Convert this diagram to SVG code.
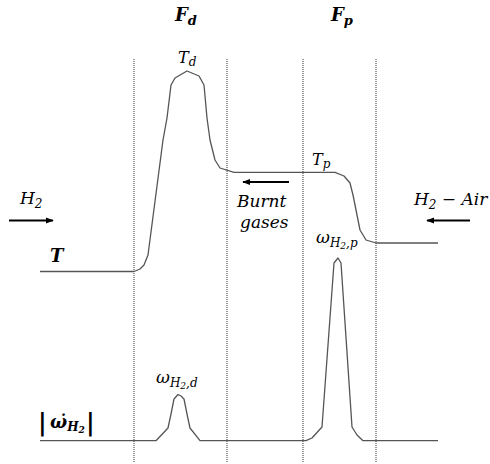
<svg xmlns="http://www.w3.org/2000/svg" width="490" height="464" viewBox="0 0 490 464">
<defs>
<marker id="ah" viewBox="0 0 10 10" refX="9" refY="5" markerWidth="8" markerHeight="8" markerUnits="userSpaceOnUse" orient="auto">
<path d="M0,1 L10,5 L0,9 z" fill="#000"/>
</marker>
<style>
.dot{stroke:#333;stroke-width:1;stroke-dasharray:1 1;fill:none}
.curve{stroke:#555;stroke-width:1.3;fill:none;stroke-linejoin:round}
.arr{stroke:#000;stroke-width:2;fill:none}
text{font-family:"DejaVu Serif","Liberation Serif",serif;font-style:italic;fill:#000}
.b{font-weight:bold}
</style>
</defs>
<rect width="490" height="464" fill="#fff"/>
<g id="flame-lines">
<line class="dot" x1="134" y1="59" x2="134" y2="462"/>
<line class="dot" x1="227" y1="59" x2="227" y2="462"/>
<line class="dot" x1="303" y1="59" x2="303" y2="462"/>
<line class="dot" x1="376" y1="59" x2="376" y2="462"/>
</g>
<g id="T-profile">
<path class="curve" d="M40,271.5 L134,271.5 L140,269 L144,265 L148,255 L163,140 L167,118 L171,85 L175,78 L187,71 L199,76 L204,85 L207,118 L210,140 L215,160 L220,168 L234,172.3 L335,172.3 L344,176 L350,183 L353,195 L360,230 L366,240 L376,243 L438,243"/>
</g>
<g id="omega-profile">
<path class="curve" d="M40,440.7 L156,440.7 L168,428 L171,414 L174,399 L178,394.5 L181,396 L184,399 L187,414 L190,428 L200,440.7 L306,440.7 L312,438 L322,427 L334,263 L338,258 L341,263 L352,427 L357,435 L363,440.7 L438,440.7"/>
</g>
<g id="connectors">
<line class="arr" x1="9" y1="220.5" x2="53" y2="220.5" marker-end="url(#ah)"/>
<line class="arr" x1="289" y1="182" x2="243" y2="182" marker-end="url(#ah)"/>
<line class="arr" x1="470" y1="220.5" x2="427" y2="220.5" marker-end="url(#ah)"/>
</g>
<g id="labels">
<text class="b" x="175" y="21" font-size="18">F<tspan font-size="13" dy="4">d</tspan></text>
<text class="b" x="331" y="21" font-size="18">F<tspan font-size="13" dy="4">p</tspan></text>
<text x="178" y="63" font-size="16">T<tspan font-size="12" dy="3">d</tspan></text>
<text x="312" y="165" font-size="16">T<tspan font-size="12" dy="3">p</tspan></text>
<text x="20" y="204" font-size="17">H<tspan font-size="12" dy="4">2</tspan></text>
<text class="b" x="50" y="262" font-size="18">T</text>
<text x="237" y="207" font-size="17">Burnt</text>
<text x="240" y="228" font-size="17">gases</text>
<text x="414" y="205" font-size="17">H<tspan font-size="12" dy="4">2</tspan><tspan dy="-4"> − Air</tspan></text>
<text x="316" y="243" font-size="17">ω<tspan font-size="12" dy="4">H</tspan><tspan font-size="9" dy="2">2</tspan><tspan font-size="12" dy="-2">,p</tspan></text>
<text x="156" y="383" font-size="17">ω<tspan font-size="12" dy="4">H</tspan><tspan font-size="9" dy="2">2</tspan><tspan font-size="12" dy="-2">,d</tspan></text>
<text class="b" x="38" y="431" font-size="24" font-style="normal">|</text>
<text class="b" x="50" y="428" font-size="18">ω̇<tspan font-size="12" dy="3">H</tspan><tspan font-size="9" dy="2">2</tspan></text>
<text class="b" x="86" y="431" font-size="24" font-style="normal">|</text>
</g>
</svg>
